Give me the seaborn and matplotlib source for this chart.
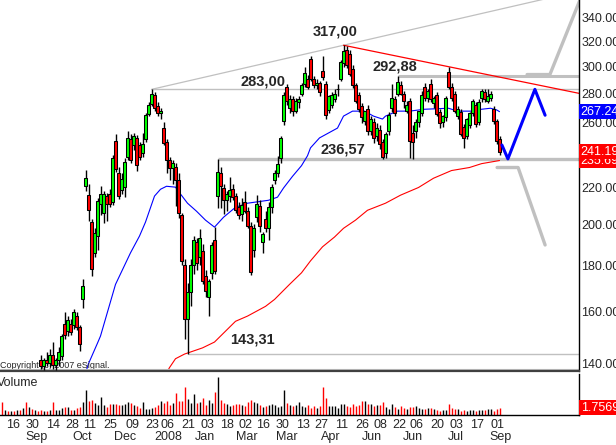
import numpy as np
import pandas as pd
import matplotlib
matplotlib.use("Agg")
import matplotlib.pyplot as plt
import matplotlib.transforms as mtransforms
from matplotlib.ticker import NullLocator, FormatStrFormatter
import seaborn as sns

nan = np.nan

# ==============================
# 1. Data (one bar per slot, oldest first)
# ==============================
opens = [nan, nan, nan, nan, nan, nan, nan, nan, nan, nan, nan, nan, nan,
         141, 139, 141, 140, 143, 139.5, 141, 142.5, 155, 152,
         155, 154.5, 158, 153.5, 165, 221, 215.5, 201, 186, 194,
         211, 206, 215, 216, 212, 248, 228, 218.5, 220, 238,
         249, 245, 249.5, 245, 240, 249, 265.5, 272.5, 279, 271,
         266, 256, 247, 236, 231, 232, 224, 205, 180, 157,
         168, 180, 191, 184, 187, 175, 166, 176.5, 192, 215,
         228, 219.5, 213, 215, 219, 215, 209, 205.5, 212, 207,
         199, 187.5, 204, 209.5, 191, 203, 198, 209, 224, 228,
         237, 261, 285, 270, 276, 268, 274, 280, 287, 291,
         306, 291, 286, 288, 296.5, 287, 268.5, 272, 276, 283,
         291, 303, 313, 310, 298, 286, 279, 271, 261, 269,
         254.5, 260.5, 251, 255, 247, 240, 254, 269.5, 276, 280,
         286, 280, 268, 275, 253, 254, 260, 266, 285, 277,
         287, 273, 279, 267, 260, 263.5, 296, 285, 280, 264.5,
         267, 257, 251, 258.5, 266, 272, 260, 276.5, 281, 275,
         277, 269, 261, 249]

highs = [nan, nan, nan, nan, nan, nan, nan, nan, nan, nan, nan, nan, nan,
         143, 142, 144, 145, 148, 142, 146, 151, 159.5, 158,
         157, 161, 159.5, 154.5, 174, 230, 222, 203, 198, 214,
         221, 218, 217, 219, 239, 252.5, 232, 228, 237, 254,
         252.5, 253, 252, 247, 253, 266, 274, 283, 281, 274,
         270, 260, 249, 238, 236, 234, 228, 206, 183, 172,
         183, 194, 193, 197.5, 190, 178, 174, 191, 198.5, 236.57,
         232, 222, 218, 226, 222, 217, 212, 214, 218, 209,
         201, 200, 215.5, 213, 196, 207, 212, 222, 230, 238.5,
         251, 281, 287, 279, 278, 277, 278, 288, 300, 294,
         308.5, 293, 291, 289, 308.5, 289, 279, 281, 283.5, 287,
         305.5, 317, 316.5, 313, 301, 288, 281, 273, 268, 272,
         264, 263, 259.5, 258, 249, 253.5, 267, 287, 278, 292.88,
         289, 282, 275, 277, 258, 262, 268, 282, 287.5, 283,
         291, 278, 281, 269, 265, 278, 300, 288, 282, 271,
         269, 259, 263, 267, 276, 274, 276, 283, 283, 283,
         282, 271, 262, 251]

lows = [nan, nan, nan, nan, nan, nan, nan, nan, nan, nan, nan, nan, nan,
        138, 137.5, 139, 138.5, 138, 137.5, 139, 141, 149, 150,
        150.5, 153, 152.5, 144.5, 161.5, 218, 202, 175, 184, 187.5,
        205, 200.5, 202, 209, 210, 229, 213.5, 216, 214.5, 236,
        234, 242, 229.5, 236, 238, 247, 264, 271, 268, 264.5,
        262, 245, 228, 224, 222, 209.5, 203.5, 180, 149, 143.31,
        162, 176, 178, 180, 171.5, 166, 158, 174, 176, 208.5,
        208.5, 205.5, 207, 212, 213, 206, 203, 202, 206, 198,
        175.5, 184, 201, 196, 186, 196, 192, 206, 222, 226,
        234, 258, 272, 266, 264, 266, 270, 278, 285, 283,
        289, 284, 283, 278, 290, 262, 266, 270, 274, 278,
        289, 300, 299, 293, 284, 273, 267, 259.5, 258, 252,
        252, 246.5, 248, 242.5, 236.57, 237, 252, 267, 264, 278,
        279, 269.5, 266, 237, 236.5, 250, 257, 264, 275, 274,
        274, 270, 264, 256, 257, 261, 283, 275, 266, 262,
        251, 243.5, 249, 256, 264, 257, 258, 274, 274, 273,
        275, 259, 246, 239]

closes = [nan, nan, nan, nan, nan, nan, nan, nan, nan, nan, nan, nan, nan,
          139, 141, 140, 143, 139.5, 141, 144, 150, 150.5, 156.5,
          151.5, 159.5, 153.5, 147, 170.5, 225.5, 207.5, 178.5, 195.5, 212.5,
          216.5, 216.5, 210.5, 211, 237.5, 230.5, 215, 225, 235, 249.5,
          236, 251, 233, 238, 246, 265, 272, 279.5, 270, 266,
          268, 246.5, 236, 231, 234, 224, 206, 182, 157, 168,
          180, 192, 181, 193, 173, 168.5, 173, 189.5, 177.5, 229,
          221, 213, 216, 218.5, 214.5, 207.5, 205, 210, 207, 199,
          177, 198, 211, 199, 195, 198, 209, 220, 228, 233.5,
          249.5, 279, 274.5, 276, 268, 275, 276, 286.5, 295, 285,
          291, 286, 288, 281, 292, 265, 278, 279, 280, 283.5,
          304, 312.5, 301.5, 294.5, 286, 274.5, 269, 263.5, 267.5, 254.5,
          262, 250, 256, 246, 238, 252.5, 265, 276.5, 266, 288.5,
          280, 274.5, 272, 248, 247, 260.5, 267.5, 279, 277, 281.5,
          276, 276.5, 265.5, 259.5, 264, 276.5, 285, 277, 268, 269,
          252.5, 250, 262, 266, 274.5, 259, 274, 281.5, 276, 278.5,
          280, 261, 248, 241.19]

# volume in millions
volume = [3.25, 1.25, 1, 1, 1, 1.25, 1.25, 1.75, 3.25, 2, 1.5, 1.25, 1,
          1.25, 1, 1, 1.25, 3.25, 1.25, 1.25, 1.75, 2, 2,
          1.25, 1.25, 1.75, 2, 3.25, 6.25, 3.5, 3.75, 3, 2.5,
          4.5, 2.5, 2, 2.75, 2.75, 2.75, 2.5, 2.5, 2.75, 3.25,
          3, 2.5, 2.25, 1.75, 3.25, 1.5, 1.5, 1.75, 2, 2.5,
          3.5, 3, 3.5, 2.5, 3, 5.5, 3.5, 3.5, 7, 4,
          3, 5.25, 3, 3.25, 4.25, 2.5, 3.75, 3, 5.75, 9.5,
          3.75, 3, 2.75, 2.25, 2.5, 2.75, 2.75, 2.5, 2.25, 3.25,
          3.75, 3.25, 3, 2.5, 2, 2.25, 2.5, 2.75, 2.5, 2,
          2.25, 6.25, 3, 2.5, 2.25, 2.5, 3.25, 2.25, 2, 2.5,
          1.75, 2.25, 1.75, 2.25, 7, 4.25, 2.25, 2.25, 2.25, 1.75,
          2.75, 2.75, 2.25, 2, 2.75, 2.25, 2.5, 3.5, 3.5, 2.75,
          2.75, 2.25, 2.5, 2.5, 3.25, 2, 1.5, 2.75, 2, 1.5,
          2.25, 1.75, 1.5, 2, 2, 2.25, 1.75, 1.5, 1.5, 1.75,
          1.75, 1.5, 1.25, 1, 1.25, 1.25, 2.75, 1.75, 1.5, 1.5,
          1, 1.25, 1, 1.25, 1.25, 1, 1.25, 1.25, 1.25, 1.5,
          1.5, 1, 1.5, 1.75697]

# down days among the first bars, whose prices sit below the window
early_down = [1, 0, 1, 0, 1, 0, 1, 0, 1, 0, 1, 0, 1]

# moving averages (bar, value)
ma50_bar = [28, 29, 32, 33, 38, 43, 46, 48, 51, 53, 55, 58, 59, 62, 65, 68, 71, 74,
            78, 82, 89, 92, 94, 97, 100, 102, 103, 106, 112, 114, 117, 121, 124,
            127, 128, 132, 136, 141, 149, 152, 157, 160, 163, 165, 166]
ma50_val = [136.5, 139.8, 147.4, 150.1, 171.4, 185.9, 194.1, 201.2, 215.1, 218.9,
            220.6, 220.1, 217.7, 211.2, 206.9, 202.2, 198.6, 203.7, 209, 211.2,
            212.8, 214.5, 219.6, 226.3, 232.6, 238.6, 243.5, 249.8, 256.2, 264.2,
            267.6, 267.6, 264.2, 262.2, 264.2, 267.6, 267.6, 268.9, 269.6, 267.6,
            267.6, 268.9, 269.6, 268.5, 267.249]

ma200_bar = [55, 56, 58, 61, 67, 71, 78, 82, 88, 91, 96, 100, 103, 107, 111, 114,
             118, 122, 128, 133, 139, 144, 150, 156, 160, 166]
ma200_val = [136.5, 138.4, 141.6, 143.3, 145.6, 147.8, 155.9, 158, 162, 164.9,
             171.4, 176.6, 182.1, 188.8, 193.6, 198, 202.2, 207.4, 211.2, 215.6,
             219.9, 225.2, 229.7, 231.5, 233.8, 235.692]

# support / resistance levels and the bar they start from
level_price = [283.00, 292.88, 236.57, 143.31]
level_bar = [50, 132, 72, 62]

# trendline anchors: highs at these bars
upper_bars = [50, 114]
resist_bars = [114, 149]

# scenario sketches on the right (bar, price)
path_blue_bar = [166.8, 168.8, 177.8, 181.2]
path_blue_val = [245.3, 236.7, 283.0, 264.8]
path_up_bar = [175.2, 182.8, 192.8]
path_up_val = [294.0, 294.0, 356.0]
path_down_bar = [165.2, 172.2, 181.2]
path_down_val = [231.5, 231.5, 189.7]

price_ticks = [140, 160, 180, 200, 220, 240, 260, 280, 300, 320, 340]
day_pos = [3.8, 10.5, 17.2, 23.5, 29.5, 36.2, 43.5, 50.2, 55.2, 62.2, 68.5, 75.2, 81.2,
           87.2, 93.8, 100.5, 106.5, 113.5, 120.2, 126.2, 132.5, 138.5, 145.2,
           151.8, 158.5, 165.2]
day_labels = ["16", "30", "14", "28", "11", "25", "09", "23", "06", "21", "03", "18", "02",
              "16", "30", "13", "27", "11", "26", "08", "22", "06", "20", "03", "17", "01"]
month_pos = [11.8, 26.8, 41.2, 55.5, 67.8, 81.8, 95.2, 109.8, 123.5, 137.2, 151.5, 166.5]
month_labels = ["Sep", "Oct", "Dec", "2008", "Jan", "Mar", "Mar", "Apr", "Jun", "Jun",
                "Jul", "Sep"]

# ==============================
# 2. Style
# ==============================
sns.set_style("white")
plt.rcParams["font.family"] = ["Liberation Sans", "DejaVu Sans"]

GREEN = "#00ff00"
RED = "#ff0000"
BLUE = "#0000ff"
GREY = "#c0c0c0"

df = pd.DataFrame({"bar": np.arange(len(volume)), "open": opens, "high": highs,
                   "low": lows, "close": closes, "volume": volume})

fig = plt.figure(figsize=(6.16, 4.45), dpi=100)
ax = fig.add_axes([0, 1 - 371 / 445, 579 / 616, 371 / 445])
axv = fig.add_axes([0, 30 / 445, 579 / 616, 41 / 445])

# ==============================
# 3. Price panel
# ==============================
ax.set_yscale("log")
ax.set_xlim(-0.5, 192.5)
ax.set_ylim(137.2, 356.1)

# level lines
widths = [1.0, 2.2, 2.4, 1.0]
for lvl, b, w in zip(level_price, level_bar, widths):
    ax.plot([b, 192.5], [lvl, lvl], color=GREY, lw=w, zorder=1, solid_capstyle="butt")


def ray(b0, b1):
    p0, p1 = df.high[b0], df.high[b1]
    slope = (np.log(p1) - np.log(p0)) / (b1 - b0)
    return [b0, 192.5], [p0, np.exp(np.log(p0) + slope * (192.5 - b0))]


bx, by = ray(*upper_bars)
ax.plot(bx, by, color=GREY, lw=0.9, zorder=1)
bx, by = ray(*resist_bars)
ax.plot(bx, by, color=RED, lw=0.9, zorder=1)

# moving averages
sns.lineplot(x=ma50_bar, y=ma50_val, ax=ax, color=BLUE, lw=0.8, estimator=None,
             sort=False, zorder=2)
sns.lineplot(x=ma200_bar, y=ma200_val, ax=ax, color=RED, lw=0.8, estimator=None,
             sort=False, zorder=2)

ax.text(0.0, 0.016, "Copyright (c) 2007 eSignal.", transform=ax.transAxes,
        fontsize=6.5, va="center", ha="left", zorder=2)

# candles
px = df.dropna()
lo = np.minimum(px.open, px.close)
hi = np.maximum(px.open, px.close)
ax.vlines(px.bar, px.low, px.high, color="black", lw=1.0, zorder=3)
ax.bar(px.bar, hi - lo, bottom=lo, width=0.78,
       color=np.where(px.close >= px.open, GREEN, RED),
       edgecolor="black", linewidth=0.75, zorder=4)

# scenario sketches
ax.plot(path_up_bar, path_up_val, color=GREY, lw=2.4, zorder=2)
ax.plot(path_down_bar, path_down_val, color=GREY, lw=2.4, zorder=2)
ax.plot(path_blue_bar, path_blue_val, color=BLUE, lw=2.2, zorder=5)

# value notes
notes = [("317,00", 111.2, 328.0), ("283,00", 87.2, 288.8), ("292,88", 131.2, 300.3),
         ("236,57", 113.8, 242.2), ("143,31", 83.5, 148.6)]
for txt, b, p in notes:
    ax.text(b, p, txt, fontsize=10.5, fontweight="bold", ha="center", va="center",
            zorder=6)

ax.yaxis.tick_right()
ax.set_yticks(price_ticks)
ax.yaxis.set_minor_locator(NullLocator())
ax.yaxis.set_major_formatter(FormatStrFormatter("%.2f"))
ax.tick_params(axis="y", length=0, pad=1.5, labelsize=9)
ax.set_xticks([])
for s in ["left", "top"]:
    ax.spines[s].set_visible(False)
ax.spines["right"].set_color("black")
ax.spines["right"].set_linewidth(1.0)
ax.spines["bottom"].set_color("#404040")
ax.spines["bottom"].set_linewidth(1.6)
ax.plot([0, 1], [0.006, 0.006], transform=ax.transAxes, color=GREY, lw=0.8,
        clip_on=False)
ax.set_xlabel("")
ax.set_ylabel("")

# last value tags on the price scale
tag = mtransforms.blended_transform_factory(ax.transAxes, ax.transData)
for val, txt, col, z in [(235.692, "235.692", RED, 7), (241.19, "241.19", RED, 8),
                         (267.249, "267.249", BLUE, 8)]:
    ax.text(1.003, val, txt, transform=tag, color="white", fontsize=9, ha="left",
            va="center", clip_on=False, zorder=z,
            bbox=dict(boxstyle="square,pad=0.12", fc=col, ec="none"))

# ==============================
# 4. Volume panel
# ==============================
down = np.where(df.close.notna(), df.close < df.open,
                np.r_[early_down, np.zeros(len(df) - len(early_down))].astype(bool))
axv.vlines(df.bar, 0, df.volume, colors=np.where(down, RED, "black"), lw=1.0)
axv.set_xlim(-0.5, 192.5)
axv.set_ylim(0, 10.25)
axv.set_yticks([])
axv.set_xticks(day_pos)
axv.set_xticklabels(day_labels)
axv.tick_params(axis="x", length=0, pad=3, labelsize=9)
mtrans = mtransforms.blended_transform_factory(axv.transData, axv.transAxes)
for b, m in zip(month_pos, month_labels):
    axv.text(b, -0.54, m, transform=mtrans, fontsize=9, ha="center", va="center")
axv.text(-0.006, 0.78, "Volume", transform=axv.transAxes, fontsize=9, va="center",
         ha="left")
for s in ["left", "top"]:
    axv.spines[s].set_visible(False)
axv.spines["right"].set_color("black")
axv.spines["bottom"].set_color("black")
axv.spines["right"].set_linewidth(1.0)
axv.spines["bottom"].set_linewidth(1.0)
vtag = mtransforms.blended_transform_factory(axv.transAxes, axv.transData)
axv.text(1.003, volume[-1], "1.75697", transform=vtag, color="white", fontsize=9,
         ha="left", va="center", clip_on=False,
         bbox=dict(boxstyle="square,pad=0.12", fc=RED, ec="none"))

fig.savefig("out.png", dpi=100, facecolor="white")
